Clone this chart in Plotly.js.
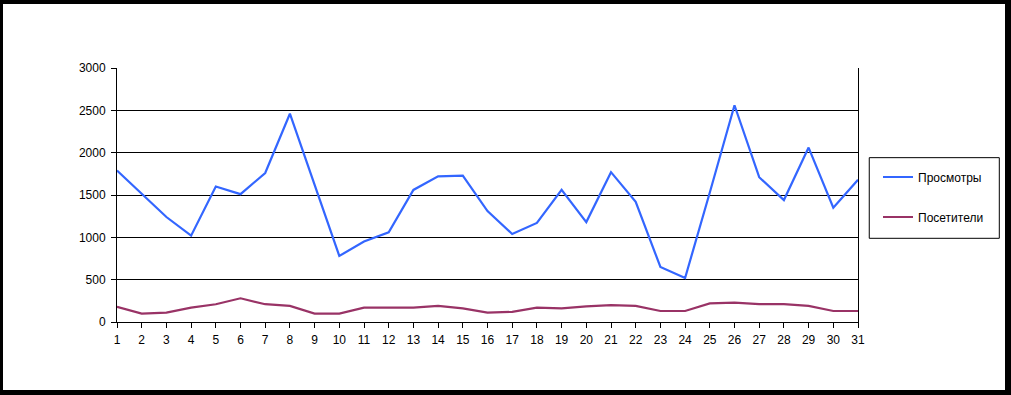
<!DOCTYPE html>
<html>
<head>
<meta charset="utf-8">
<script src="https://cdn.plot.ly/plotly-3.0.1.min.js"></script>
<style>
  html, body { margin: 0; padding: 0; background: #ffffff; }
  #frame {
    position: absolute; left: 0; top: 0;
    width: 1011px; height: 395px;
    box-sizing: border-box;
    border-style: solid; border-color: #000;
    border-width: 4px 6px 5px 3px;
    background: #fff;
  }
  #chart { width: 1002px; height: 386px; }
</style>
</head>
<body>
<div id="frame"><div id="chart"></div></div>
<script>
const days = [1,2,3,4,5,6,7,8,9,10,11,12,13,14,15,16,17,18,19,20,21,22,23,24,25,26,27,28,29,30,31];
const views = [1790,1510,1240,1020,1600,1510,1760,2460,1610,780,950,1060,1560,1720,1730,1310,1040,1170,1560,1180,1770,1420,650,520,1530,2560,1710,1440,2060,1350,1680];
const visitors = [180,100,110,170,210,280,210,190,100,100,170,170,170,190,160,110,120,170,160,185,200,190,130,130,220,230,210,210,190,130,130];
const seriesNames = ["Просмотры", "Посетители"];
const yTicks = [0,500,1000,1500,2000,2500,3000];

const font = {family: "Arial, 'Liberation Sans', sans-serif", size: 12, color: "#000"};

const traces = [
  {x: days, y: views, name: seriesNames[0], type: "scatter", mode: "lines",
   line: {color: "#3366ff", width: 2.2}, legendgroup: "a"},
  {x: days, y: visitors, name: seriesNames[1], type: "scatter", mode: "lines",
   line: {color: "#993366", width: 2.2}, legendgroup: "b"}
];

const layout = {
  width: 1002, height: 386,
  margin: {l: 114, r: 147, t: 64, b: 68},
  paper_bgcolor: "#fff", plot_bgcolor: "#fff",
  font: font,
  showlegend: true,
  legend: {x: 1.027, y: 0.628, xanchor: "left", yanchor: "top",
           bgcolor: "rgba(0,0,0,0)", borderwidth: 0, font: font,
           tracegroupgap: 21, itemwidth: 30},
  xaxis: {range: [1, 31], tickmode: "array", tickvals: days, ticktext: days.map(String),
          showgrid: false, zeroline: false, showline: true, linecolor: "#000", linewidth: 1,
          ticks: "outside", ticklen: 5, tickcolor: "#000", tickwidth: 1, tickfont: font,
          ticklabelstandoff: 2},
  yaxis: {range: [0, 3000], tickmode: "array", tickvals: yTicks, ticktext: yTicks.map(String),
          showgrid: true, gridcolor: "#000", gridwidth: 1, zeroline: false,
          showline: true, linecolor: "#000", linewidth: 1, mirror: true,
          ticks: "outside", ticklen: 5, tickcolor: "#000", tickwidth: 1, tickfont: font,
          ticklabelstandoff: 3},
  shapes: [
    {type: "rect", xref: "paper", yref: "paper", x0: 1.0152, x1: 1.1907, y0: 0.3295, y1: 0.647,
     line: {color: "#000", width: 1}, fillcolor: "rgba(0,0,0,0)", layer: "above"}
  ]
};

Plotly.newPlot("chart", traces, layout, {staticPlot: true, displayModeBar: false});
</script>
</body>
</html>
